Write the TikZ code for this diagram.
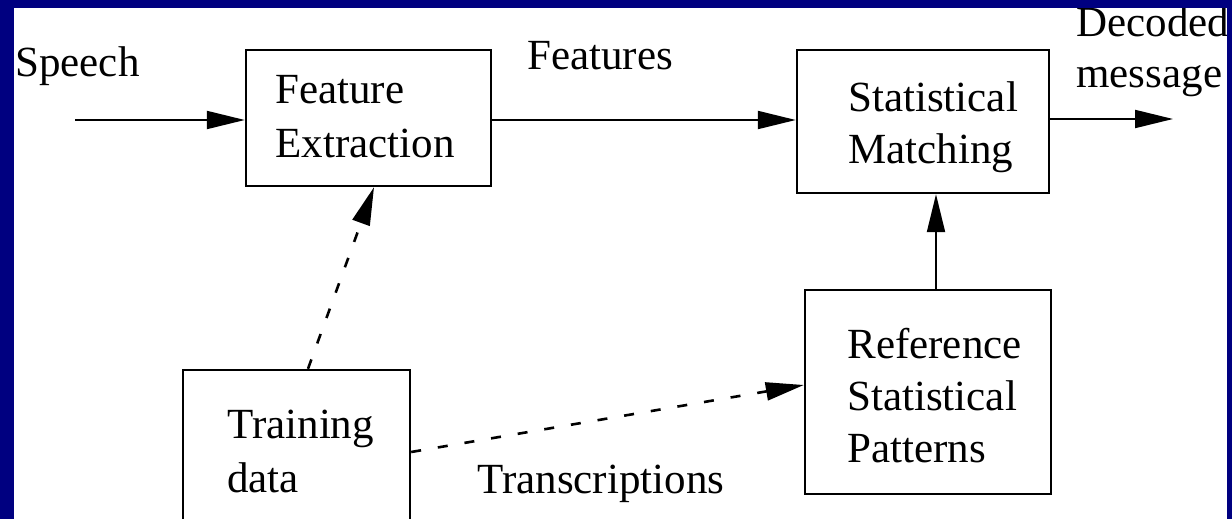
\documentclass[tikz,border=0pt]{standalone}
\usepackage{fontspec}
\setmainfont{Liberation Serif}
\usetikzlibrary{arrows.meta}
\definecolor{navyframe}{RGB}{0,0,128}
\begin{document}
\begin{tikzpicture}[x=0.5pt,y=-0.5pt,
  box/.style={draw,line width=1.2pt,inner sep=0pt},
  lbl/.style={inner sep=0pt,anchor=base west,font=\fontsize{21.5}{26}\selectfont},
  arr/.style={line width=1pt,-{Triangle[length=19pt,width=9pt]}},
  dsh/.style={arr,line width=1.3pt,dash pattern=on 5pt off 8.5pt}]
\useasboundingbox (0,0) rectangle (1232,519);
\clip (0,0) rectangle (1232,519);
\fill[white] (0,0) rectangle (1232,519);
% boxes
\node[box,minimum width=122.5pt,minimum height=68pt] (fe) at (368.5,118) {};
\node[box,minimum width=126pt,minimum height=71.5pt] (sm) at (923,121.5) {};
\node[box,minimum width=123pt,minimum height=102pt] (ref) at (928,392) {};
\node[box,minimum width=113.5pt,minimum height=85pt] (tr) at (296.5,455) {};
% box texts
\node[lbl] (fe1) at (275,104) {Feature};
\node[lbl] (fe2) at (275,157) {Extraction};
\node[lbl] (sm1) at (848,112) {Statistical};
\node[lbl] (sm2) at (848,163) {Matching};
\node[lbl] (ref1) at (847,358) {Reference};
\node[lbl] (ref2) at (847,410) {Statistical};
\node[lbl] (ref3) at (847,462) {Patterns};
\node[lbl] (tr1) at (227,438) {Training};
\node[lbl] (tr2) at (227,492) {data};
% free labels
\node[lbl] (speech) at (15,77) {Speech};
\node[lbl] (features) at (527,70) {Features};
\node[lbl] (dec1) at (1076,37) {Decoded};
\node[lbl] (dec2) at (1076,88) {message};
\node[lbl] (trans) at (477,493) {Transcriptions};
% connectors
\coordinate (sp) at (75,120);
\coordinate (out) at (1173,119);
\draw[arr] (sp) -- (sp -| fe.west);
\draw[arr] (fe.east |- sp) -- (sm.west |- sp);
\draw[arr] (sm.east |- out) -- (out);
\draw[arr] ([xshift=4pt]ref.north) -- ([xshift=4pt]ref.north |- sm.south);
\draw[dsh] ([xshift=5.75pt]tr.north) -- ([xshift=2.75pt]fe.south);
\draw[dsh] ([yshift=1.5pt]tr.east) -- ([yshift=3.5pt]ref.west);
% frame
\fill[navyframe] (0,0) rectangle (1232,8);
\fill[navyframe] (0,0) rectangle (14,519);
\fill[navyframe] (1227,0) rectangle (1232,519);
\end{tikzpicture}
\end{document}
